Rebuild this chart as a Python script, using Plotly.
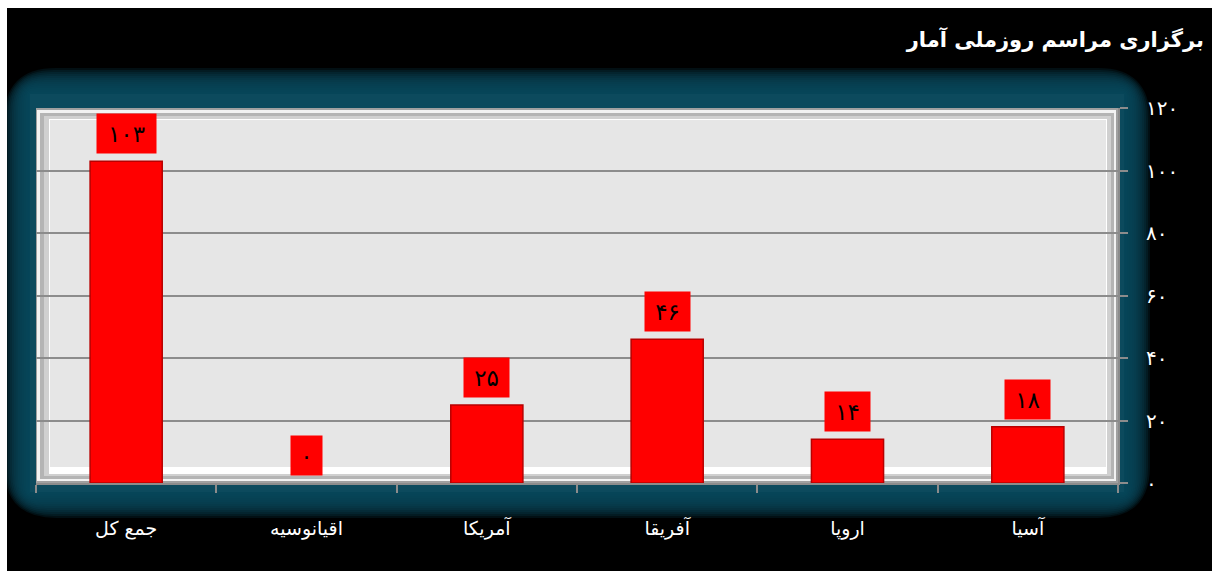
import plotly.graph_objects as go

# ---------------- data ----------------
categories = ["جمع کل", "اقیانوسیه", "آمریکا", "آفریقا", "اروپا", "آسیا"]
values = [103, 0, 25, 46, 14, 18]
tick_values = [0, 20, 40, 60, 80, 100, 120]
tick_labels = ["۰", "۲۰", "۴۰", "۶۰", "۸۰", "۱۰۰", "۱۲۰"]
title_text = "برگزاری مراسم روزملی آمار"


def fa(n):
    return str(n).translate(str.maketrans("0123456789", "۰۱۲۳۴۵۶۷۸۹"))


# ---------------- geometry (page pixels; body margin removed) ----------------
W, H = 1212, 571
# plot area: x 36..1118, y 108..483
L, T = 36, 108
R = W - 1118
B = H - 483
PW, PH = W - L - R, H - T - B


def px(x):
    return (x - L) / PW


def py(y):
    return (H - B - y) / PH


def rect(x0, y0, x1, y1, color, opacity=1.0, layer="below"):
    return dict(type="rect", xref="paper", yref="paper",
                x0=px(x0), x1=px(x1), y0=py(y1), y1=py(y0),
                fillcolor=color, opacity=opacity, line=dict(width=0), layer=layer)


def rrect(x0, y0, x1, y1, r, color, opacity=1.0):
    pts = [
        ("M", [(x0 + r, y0)]), ("L", [(x1 - r, y0)]), ("Q", [(x1, y0), (x1, y0 + r)]),
        ("L", [(x1, y1 - r)]), ("Q", [(x1, y1), (x1 - r, y1)]),
        ("L", [(x0 + r, y1)]), ("Q", [(x0, y1), (x0, y1 - r)]),
        ("L", [(x0, y0 + r)]), ("Q", [(x0, y0), (x0 + r, y0)]),
    ]
    path = " ".join(cmd + " " + " ".join(f"{px(a):.5f},{py(b):.5f}" for a, b in p) for cmd, p in pts) + " Z"
    return dict(type="path", xref="paper", yref="paper", path=path,
                fillcolor=color, opacity=opacity, line=dict(width=0), layer="below")


shapes = []
# teal glow (soft edge)
teal = "#0c4a5d"
for k in range(12, -1, -1):
    e = 2 * k
    shapes.append(rrect(28 - e, 92 - e, 1126 + e, 494 + e, 4 + 2 * e, teal, 0.2))
shapes.append(rect(30, 94, 1124, 492, teal))
# bevelled plot area
shapes.append(rect(36, 108, 1118, 483, "#a0a0a0"))
shapes.append(rect(37, 110, 1116, 481, "#f2f2f2"))
shapes.append(rect(40, 113, 1114, 479, "#b4b4b4"))
shapes.append(rect(44, 116, 1111, 476, "#d0d0d0"))
shapes.append(rect(49, 119, 1107, 474, "#ffffff"))
shapes.append(rect(50, 120, 1106, 467, "#e6e6e6"))
# white margin of the original picture (top and left)
shapes.append(rect(-2, -2, 7, H + 2, "#ffffff", layer="above"))
shapes.append(rect(-2, -2, W + 2, 8, "#ffffff", layer="above"))

fig = go.Figure()
fig.add_trace(go.Bar(
    x=categories, y=values, width=0.4,
    marker=dict(color="#ff0000",
                line=dict(color="#b80000", width=[1.5 if v > 0 else 0 for v in values])),
    hoverinfo="skip",
))

annotations = []
for c, v in zip(categories, values):
    label = fa(v)
    annotations.append(dict(
        x=c, y=v, xref="x", yref="y", text=label, showarrow=False,
        yanchor="bottom", yshift=7, bgcolor="#ff0000", borderpad=0,
        width=14 * len(label) + 17, height=39,
        font=dict(family="DejaVu Sans", size=23, color="#000000"),
    ))

grey = "#8c8c8c"
fig.update_layout(
    width=W, height=H, autosize=False,
    margin=dict(l=L, r=R, t=T, b=B),
    paper_bgcolor="#000000",
    plot_bgcolor="rgba(0,0,0,0)",
    showlegend=False,
    shapes=shapes,
    annotations=annotations,
    title=dict(text=title_text, xref="container", yref="container",
               x=1204 / W, xanchor="right", y=1 - 40 / H, yanchor="middle",
               font=dict(family="DejaVu Sans", size=21, color="#ffffff", weight="bold")),
    xaxis=dict(type="category", tickson="boundaries", ticks="outside", ticklen=8,
               tickwidth=2, tickcolor=grey, showline=True, linecolor=grey, linewidth=2,
               showgrid=False, ticklabelstandoff=27,
               tickfont=dict(family="DejaVu Sans", size=19, color="#ffffff")),
    yaxis=dict(side="right", range=[0, 120], tickvals=tick_values, ticktext=tick_labels,
               ticks="outside", ticklen=8, tickwidth=2, tickcolor=grey,
               showline=True, linecolor=grey, linewidth=2,
               showgrid=True, gridcolor=grey, gridwidth=2, zeroline=False,
               ticklabelstandoff=14,
               tickfont=dict(family="DejaVu Sans", size=20, color="#ffffff")),
)

fig.write_html(
    "out.html",
    config={"displayModeBar": False},
    post_script="document.body.style.margin='0';document.body.style.overflow='hidden';"
                "document.documentElement.style.background='#000';",
)
